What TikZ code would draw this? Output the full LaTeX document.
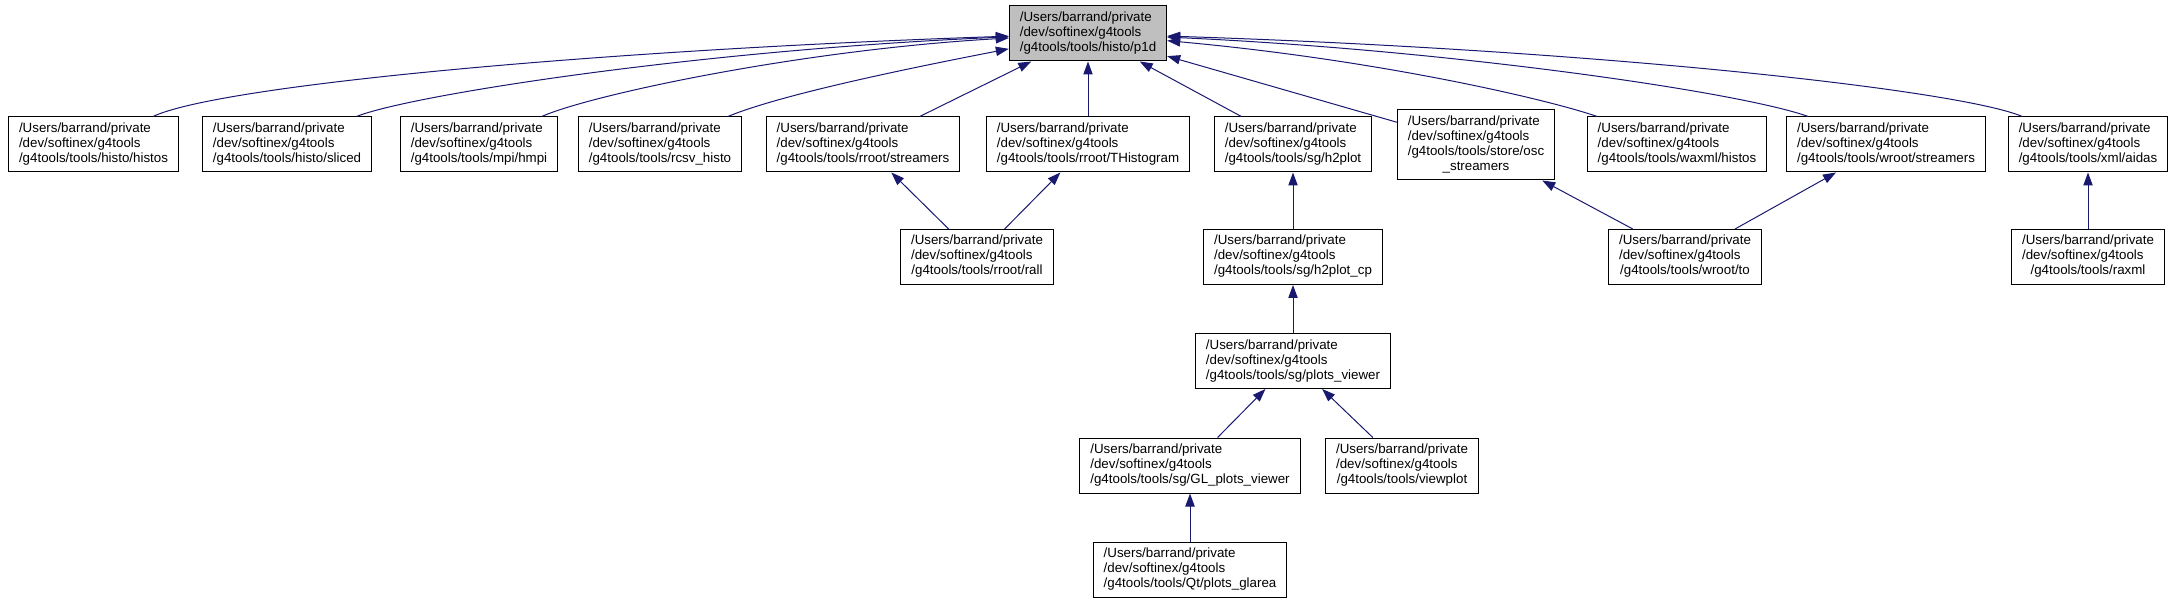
\documentclass[tikz,border=0pt]{standalone}
\usepackage{fontspec}
\setmainfont{Liberation Sans}
\usetikzlibrary{arrows.meta}
\definecolor{edgeblue}{HTML}{191970}
\definecolor{rootfill}{HTML}{BFBFBF}
\newcommand{\gvfont}{\fontsize{13.33}{15}\selectfont}
\newcommand{\fpath}[2]{\begin{tabular}{@{}l@{}}#1\\\multicolumn{1}{@{}c@{}}{#2}\end{tabular}}
\newcommand{\upath}[1]{\fpath{/Users/barrand/private\\/dev/softinex/g4tools}{#1}}
\tikzset{
 every node/.append style={font=\gvfont,text=black},
 file/.style={draw=black,fill=white,line width=1pt,inner xsep=10.5pt,inner ysep=5pt,minimum height=55pt},
 focus/.style={file,fill=rootfill},
 dep/.style={-{Triangle[length=13pt,width=9.3pt]},draw=edgeblue,line width=1pt},
}

\begin{document}
\begin{tikzpicture}[x=1pt,y=-1pt]

\useasboundingbox (0,0) rectangle (2173,601);
\node[focus] (p1d) at (1088,33.5) {\upath{/g4tools/tools/histo/p1d}};
% first row
\node[file] (histos) at (93.5,144.5) {\upath{/g4tools/tools/histo/histos}};
\node[file] (sliced) at (287,144.5) {\upath{/g4tools/tools/histo/sliced}};
\node[file] (hmpi) at (479,144.5) {\upath{/g4tools/tools/mpi/hmpi}};
\node[file] (rcsv) at (660,144.5) {\upath{/g4tools/tools/rcsv\_histo}};
\node[file] (rstreamers) at (863,144.5) {\upath{/g4tools/tools/rroot/streamers}};
\node[file] (thisto) at (1088,144.5) {\upath{/g4tools/tools/rroot/THistogram}};
\node[file] (h2plot) at (1293,144.5) {\upath{/g4tools/tools/sg/h2plot}};
\node[file] (osc) at (1476,145) {\fpath{/Users/barrand/private\\/dev/softinex/g4tools\\/g4tools/tools/store/osc}{\_streamers}};
\node[file] (waxml) at (1677,144.5) {\upath{/g4tools/tools/waxml/histos}};
\node[file] (wstreamers) at (1886,144.5) {\upath{/g4tools/tools/wroot/streamers}};
\node[file] (aidas) at (2088,144.5) {\upath{/g4tools/tools/xml/aidas}};
% lower rows
\node[file] (rall) at (977,257) {\upath{/g4tools/tools/rroot/rall}};
\node[file] (h2plotcp) at (1293,257) {\upath{/g4tools/tools/sg/h2plot\_cp}};
\node[file] (wto) at (1685,257) {\upath{/g4tools/tools/wroot/to}};
\node[file] (raxml) at (2088,257) {\upath{/g4tools/tools/raxml}};
\node[file] (viewer) at (1293,361) {\upath{/g4tools/tools/sg/plots\_viewer}};
\node[file] (glviewer) at (1190,465.5) {\upath{/g4tools/tools/sg/GL\_plots\_viewer}};
\node[file] (viewplot) at (1402,465.5) {\upath{/g4tools/tools/viewplot}};
\node[file] (glarea) at (1190,569.5) {\upath{/g4tools/tools/Qt/plots\_glarea}};

\draw[dep] (histos) .. controls (220,85) and (600,50) .. (p1d);
\draw[dep] (sliced) .. controls (410,95) and (700,50) .. (p1d);
\draw[dep] (hmpi) .. controls (590,95) and (800,50) .. (p1d);
\draw[dep] (rcsv) .. controls (780,95) and (900,70) .. (p1d);
\draw[dep] (rstreamers) -- (p1d);
\draw[dep] (thisto) -- (p1d);
\draw[dep] (h2plot) -- (p1d);
\draw[dep] (osc) -- (p1d);
\draw[dep] (waxml) .. controls (1550,100) and (1380,60) .. (p1d);
\draw[dep] (wstreamers) .. controls (1740,92) and (1450,50) .. (p1d);
\draw[dep] (aidas) .. controls (1960,90) and (1600,50) .. (p1d);
\draw[dep] (rall) -- (rstreamers);
\draw[dep] (rall) -- (thisto);
\draw[dep] (h2plotcp) -- (h2plot);
\draw[dep] (wto) -- (osc);
\draw[dep] (wto) -- (wstreamers);
\draw[dep] (raxml) -- (aidas);
\draw[dep] (viewer) -- (h2plotcp);
\draw[dep] (glviewer) -- (viewer);
\draw[dep] (viewplot) -- (viewer);
\draw[dep] (glarea) -- (glviewer);
\end{tikzpicture}
\end{document}
